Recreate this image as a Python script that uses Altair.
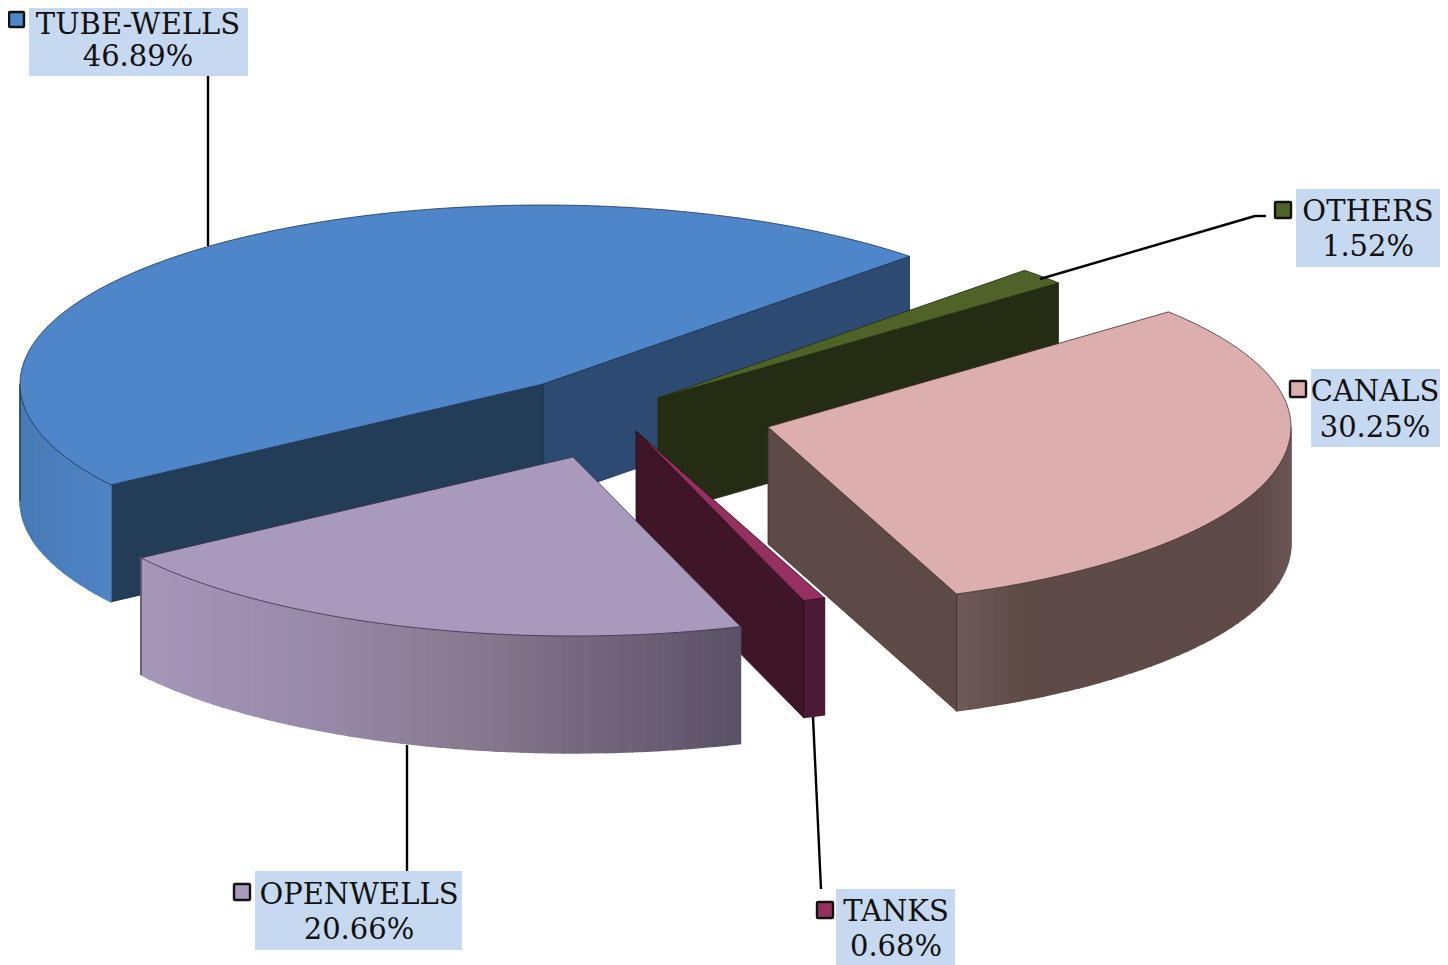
import math
import altair as alt
import pandas as pd

# ---- data ----
categories = ["TUBE-WELLS", "OPENWELLS", "TANKS", "CANALS", "OTHERS"]
shares = [46.89, 20.66, 0.68, 30.25, 1.52]
share_labels = ["46.89%", "20.66%", "0.68%", "30.25%", "1.52%"]

# ---- pie geometry and styling (reference-pixel units) ----
FIRST_ANGLE = 45.5
RX, RY, DEPTH = 523, 179, 117
apexes = {"TUBE-WELLS": (543, 384), "OPENWELLS": (573, 457), "TANKS": (636, 431),
          "CANALS": (768, 427), "OTHERS": (658, 398)}
top_colors = {"TUBE-WELLS": "#4f86c9", "OPENWELLS": "#a899bd", "TANKS": "#953060",
              "CANALS": "#dcaeae", "OTHERS": "#4f6228"}
edge_colors = {"TUBE-WELLS": "#1c3350", "OPENWELLS": "#3a3145", "TANKS": "#2a0c1c",
               "CANALS": "#40302e", "OTHERS": "#232c12"}
start_walls = {"TUBE-WELLS": "#2c4a72", "TANKS": "#3f1528", "CANALS": "#5d4a47", "OTHERS": "#242d13"}
end_walls = {"TUBE-WELLS": "#233c58"}
rim_stops = {
    "TUBE-WELLS": [(0.0, "#477ab5"), (1.0, "#4f84c5")],
    "OPENWELLS": [(0.0, "#a597b8"), (0.3, "#978aa9"), (0.55, "#88798f"), (0.8, "#6f6379"), (1.0, "#5a5066")],
    "TANKS": [(0.0, "#4c1a37"), (1.0, "#4c1a37")],
    "CANALS": [(0.0, "#6e5a58"), (0.2, "#5e4b47"), (0.9, "#5d4a47"), (1.0, "#6a5654")],
}
label_boxes = {"TUBE-WELLS": (29, 0, 248, 76), "OPENWELLS": (255, 871, 462, 950), "TANKS": (836, 889, 955, 965),
               "CANALS": (1311, 369, 1440, 447), "OTHERS": (1296, 189, 1440, 267)}
# x centre, first baseline, second baseline
label_text = {"TUBE-WELLS": (138, 34, 66), "OPENWELLS": (359, 904, 939), "TANKS": (896, 921, 956),
              "CANALS": (1375, 401, 437), "OTHERS": (1368, 221, 256)}
key_boxes = {"TUBE-WELLS": (9, 12, 24, 27), "OPENWELLS": (234, 884, 250, 900), "TANKS": (817, 902, 833, 918),
             "CANALS": (1290, 381, 1306, 397), "OTHERS": (1275, 202, 1291, 218)}
leader_lines = [(208, 76, 208, 246), (407, 745, 407, 872), (813, 717, 821, 889),
                (1040, 279, 1255, 216), (1255, 216, 1266, 216)]
paint_order = ["TUBE-WELLS", "OTHERS", "CANALS", "TANKS", "OPENWELLS"]


def rim(cat, deg, down=0):
    ax, ay = apexes[cat]
    t = math.radians(deg)
    return [ax + RX * math.cos(t), ay - RY * math.sin(t) + down]


def hex_mix(a, b, f):
    ca = [int(a[i:i + 2], 16) for i in (1, 3, 5)]
    cb = [int(b[i:i + 2], 16) for i in (1, 3, 5)]
    return "#%02x%02x%02x" % tuple(round(x + (y - x) * f) for x, y in zip(ca, cb))


def stop_color(cat, f):
    stops = rim_stops[cat]
    for (f0, c0), (f1, c1) in zip(stops, stops[1:]):
        if f <= f1:
            return hex_mix(c0, c1, (f - f0) / (f1 - f0) if f1 > f0 else 0)
    return stops[-1][1]


def poly(points, fill, stroke, width):
    ring = [list(p) for p in points] + [list(points[0])]
    return {"type": "Feature", "geometry": {"type": "Polygon", "coordinates": [ring]},
            "properties": {"fill": fill, "stroke": stroke, "sw": width}}


spans = {}
angle = FIRST_ANGLE
for cat, share in zip(categories, shares):
    spans[cat] = (angle, angle + share * 3.6)
    angle += share * 3.6

features = []
for cat in paint_order:
    a0, a1 = spans[cat]
    ax, ay = apexes[cat]
    if cat in start_walls:
        features.append(poly([[ax, ay], rim(cat, a0), rim(cat, a0, DEPTH), [ax, ay + DEPTH]],
                             start_walls[cat], edge_colors[cat], 0.8))
    if cat in end_walls:
        features.append(poly([[ax, ay], rim(cat, a1), rim(cat, a1, DEPTH), [ax, ay + DEPTH]],
                             end_walls[cat], edge_colors[cat], 0.8))
    # the curved outer wall: only the part on the near side of the ellipse shows
    if cat in rim_stops:
        v0 = max(a0, 180)
        v1 = min(a1, 360)
        n = max(2, int((v1 - v0) / 1.5))
        x_left, x_right = rim(cat, v0)[0], rim(cat, v1)[0]
        for i in range(n):
            s0 = v0 + (v1 - v0) * i / n
            s1 = v0 + (v1 - v0) * (i + 1) / n
            xm = rim(cat, (s0 + s1) / 2)[0]
            col = stop_color(cat, (xm - x_left) / (x_right - x_left))
            features.append(poly([rim(cat, s0), rim(cat, s1), rim(cat, s1, DEPTH), rim(cat, s0, DEPTH)],
                                 col, col, 1.4))
        features.append(poly([rim(cat, v0), rim(cat, v0, DEPTH)], "none", edge_colors[cat], 0.7))
    # top face
    n = max(2, int(a1 - a0))
    pts = [[ax, ay]] + [rim(cat, a0 + (a1 - a0) * i / n) for i in range(n + 1)]
    features.append(poly(pts, top_colors[cat], edge_colors[cat], 0.8))

faces = alt.Chart(alt.Data(values=features)).mark_geoshape().encode(
    fill=alt.Fill("properties.fill:N", scale=None),
    stroke=alt.Stroke("properties.stroke:N", scale=None),
    strokeWidth=alt.StrokeWidth("properties.sw:Q", scale=None),
).project(type="identity", scale=1, translate=[-8, -8])

X = alt.Scale(domain=[8, 1440], range=[0, 1432])
Y = alt.Scale(domain=[8, 965], range=[0, 957])
xa = lambda f: alt.X(f, type="quantitative", scale=X, axis=None)
ya = lambda f: alt.Y(f, type="quantitative", scale=Y, axis=None)

boxes = pd.DataFrame([{"cat": c, "x0": b[0], "y0": max(b[1], 8), "x1": b[2], "y1": b[3]}
                      for c, b in label_boxes.items()])
box_layer = alt.Chart(boxes).mark_rect(color="#c6d9f1").encode(
    x=xa("x0"), y=ya("y0"), x2="x1", y2="y1")

keys = pd.DataFrame([{"x0": key_boxes[c][0], "y0": key_boxes[c][1], "x1": key_boxes[c][2], "y1": key_boxes[c][3],
                      "fill": top_colors[c]} for c in categories])
key_layer = alt.Chart(keys).mark_rect(stroke="#111111", strokeWidth=2.4, cornerRadius=1).encode(
    x=xa("x0"), y=ya("y0"), x2="x1", y2="y1", fill=alt.Fill("fill:N", scale=None))

leaders = pd.DataFrame(leader_lines, columns=["x0", "y0", "x1", "y1"])
leader_layer = alt.Chart(leaders).mark_rule(color="#000000", strokeWidth=2.4).encode(
    x=xa("x0"), y=ya("y0"), x2="x1", y2="y1")

rows = []
for c, s in zip(categories, share_labels):
    tx, y1, y2 = label_text[c]
    rows.append({"x": tx, "y": y1, "t": c})
    rows.append({"x": tx, "y": y2, "t": s})
text_layer = alt.Chart(pd.DataFrame(rows)).mark_text(
    font="DejaVu Serif", fontSize=29, baseline="alphabetic", align="center", color="#111111"
).encode(x=xa("x"), y=ya("y"), text="t:N")

chart = alt.layer(faces, leader_layer, box_layer, key_layer, text_layer).properties(
    width=1432, height=957, padding=0, autosize="none", background="white"
).configure_view(stroke=None)

chart.save("out.html", embed_options={"renderer": "svg", "actions": False})
